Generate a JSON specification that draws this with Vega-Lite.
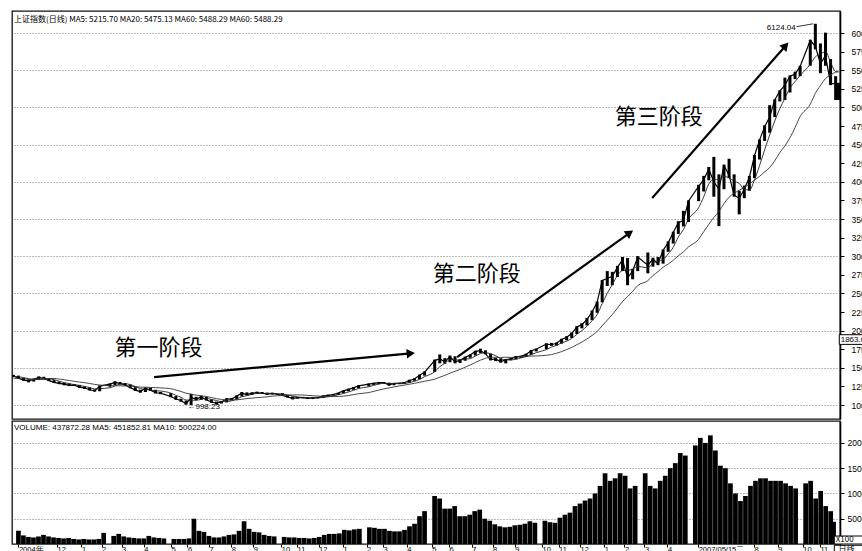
{
  "$schema": "https://vega.github.io/schema/vega-lite/v6.json",
  "background": "white",
  "padding": {"left": 10, "top": 10, "right": 0, "bottom": 0},
  "spacing": 0,
  "config": {
    "view": {"stroke": "#111", "strokeWidth": 1.3},
    "axis": {"labelFont": "Liberation Sans", "labelFontSize": 8, "labelColor": "black", "tickColor": "black", "domainColor": "black", "labelOverlap": false},
    "axisX": {"labelOverlap": false},
    "axisY": {"labelOverlap": false}
  },
  "datasets": {
    "k": [
      {"d":"2004-10-08","c":1390,"h":1405,"l":1375,"m20":1385,"m60":1360,"v":2600},
      {"d":"2004-10-15","c":1360,"h":1395,"l":1350,"m20":1380,"m60":1356,"v":1700},
      {"d":"2004-10-22","c":1335,"h":1365,"l":1325,"m20":1369,"m60":1351,"v":1400},
      {"d":"2004-10-29","c":1325,"h":1345,"l":1305,"m20":1353,"m60":1348,"v":1300},
      {"d":"2004-11-05","c":1345,"h":1355,"l":1315,"m20":1341,"m60":1348,"v":1500},
      {"d":"2004-11-12","c":1370,"h":1385,"l":1340,"m20":1344,"m60":1350,"v":1800},
      {"d":"2004-11-19","c":1355,"h":1380,"l":1345,"m20":1349,"m60":1352,"v":1500},
      {"d":"2004-11-26","c":1330,"h":1360,"l":1320,"m20":1350,"m60":1355,"v":1300},
      {"d":"2004-12-03","c":1305,"h":1335,"l":1295,"m20":1340,"m60":1357,"v":1200},
      {"d":"2004-12-10","c":1290,"h":1315,"l":1280,"m20":1320,"m60":1349,"v":1100},
      {"d":"2004-12-17","c":1280,"h":1300,"l":1265,"m20":1301,"m60":1340,"v":1200},
      {"d":"2004-12-24","c":1265,"h":1290,"l":1255,"m20":1285,"m60":1329,"v":1000},
      {"d":"2004-12-31","c":1266,"h":1280,"l":1255,"m20":1275,"m60":1319,"v":900},
      {"d":"2005-01-07","c":1240,"h":1270,"l":1230,"m20":1263,"m60":1309,"v":1000},
      {"d":"2005-01-14","c":1230,"h":1250,"l":1215,"m20":1250,"m60":1300,"v":900},
      {"d":"2005-01-21","c":1205,"h":1235,"l":1195,"m20":1235,"m60":1290,"v":900},
      {"d":"2005-01-28","c":1190,"h":1210,"l":1180,"m20":1216,"m60":1277,"v":1000},
      {"d":"2005-02-04","c":1255,"h":1265,"l":1185,"m20":1220,"m60":1268,"v":2200},
      {"d":"2005-02-18","c":1280,"h":1290,"l":1245,"m20":1232,"m60":1261,"v":1600},
      {"d":"2005-02-25","c":1305,"h":1320,"l":1270,"m20":1257,"m60":1259,"v":2000},
      {"d":"2005-03-04","c":1290,"h":1310,"l":1275,"m20":1282,"m60":1258,"v":1500},
      {"d":"2005-03-11","c":1270,"h":1295,"l":1260,"m20":1286,"m60":1256,"v":1300},
      {"d":"2005-03-18","c":1235,"h":1275,"l":1225,"m20":1275,"m60":1253,"v":1200},
      {"d":"2005-03-25","c":1200,"h":1240,"l":1190,"m20":1249,"m60":1247,"v":1100},
      {"d":"2005-04-01","c":1180,"h":1205,"l":1165,"m20":1221,"m60":1240,"v":1100},
      {"d":"2005-04-08","c":1225,"h":1235,"l":1175,"m20":1210,"m60":1239,"v":1600},
      {"d":"2005-04-15","c":1200,"h":1230,"l":1190,"m20":1201,"m60":1236,"v":1300},
      {"d":"2005-04-22","c":1165,"h":1205,"l":1155,"m20":1192,"m60":1233,"v":1200},
      {"d":"2005-04-29","c":1160,"h":1175,"l":1145,"m20":1187,"m60":1230,"v":1100},
      {"d":"2005-05-13","c":1115,"h":1160,"l":1105,"m20":1160,"m60":1219,"v":1000},
      {"d":"2005-05-20","c":1080,"h":1120,"l":1070,"m20":1130,"m60":1202,"v":1000},
      {"d":"2005-05-27","c":1060,"h":1085,"l":1045,"m20":1104,"m60":1182,"v":1000},
      {"d":"2005-06-03","c":1015,"h":1060,"l":1005,"m20":1067,"m60":1159,"v":1100},
      {"d":"2005-06-10","c":1100,"h":1150,"l":998,"m20":1064,"m60":1145,"v":5000},
      {"d":"2005-06-17","c":1080,"h":1110,"l":1065,"m20":1064,"m60":1132,"v":2600},
      {"d":"2005-06-24","c":1110,"h":1125,"l":1070,"m20":1076,"m60":1124,"v":2400},
      {"d":"2005-07-01","c":1070,"h":1110,"l":1060,"m20":1090,"m60":1115,"v":1600},
      {"d":"2005-07-08","c":1040,"h":1075,"l":1030,"m20":1075,"m60":1100,"v":1300},
      {"d":"2005-07-15","c":1025,"h":1045,"l":1005,"m20":1061,"m60":1085,"v":1300},
      {"d":"2005-07-22","c":1040,"h":1055,"l":1020,"m20":1044,"m60":1075,"v":1500},
      {"d":"2005-07-29","c":1083,"h":1090,"l":1035,"m20":1047,"m60":1068,"v":1800},
      {"d":"2005-08-05","c":1080,"h":1095,"l":1065,"m20":1057,"m60":1065,"v":1900},
      {"d":"2005-08-12","c":1120,"h":1130,"l":1075,"m20":1081,"m60":1069,"v":2600},
      {"d":"2005-08-19","c":1160,"h":1175,"l":1115,"m20":1111,"m60":1077,"v":4500},
      {"d":"2005-08-26","c":1140,"h":1170,"l":1130,"m20":1125,"m60":1087,"v":3000},
      {"d":"2005-09-02","c":1160,"h":1170,"l":1135,"m20":1145,"m60":1092,"v":2400},
      {"d":"2005-09-09","c":1165,"h":1180,"l":1150,"m20":1156,"m60":1099,"v":2300},
      {"d":"2005-09-16","c":1160,"h":1175,"l":1150,"m20":1156,"m60":1104,"v":1800},
      {"d":"2005-09-23","c":1145,"h":1165,"l":1135,"m20":1158,"m60":1110,"v":1600},
      {"d":"2005-09-30","c":1155,"h":1165,"l":1140,"m20":1156,"m60":1119,"v":1500},
      {"d":"2005-10-14","c":1130,"h":1160,"l":1125,"m20":1148,"m60":1128,"v":1400},
      {"d":"2005-10-21","c":1110,"h":1135,"l":1100,"m20":1135,"m60":1134,"v":1300},
      {"d":"2005-10-28","c":1090,"h":1115,"l":1075,"m20":1121,"m60":1135,"v":1300},
      {"d":"2005-11-04","c":1100,"h":1110,"l":1085,"m20":1108,"m60":1136,"v":1200},
      {"d":"2005-11-11","c":1100,"h":1110,"l":1090,"m20":1100,"m60":1135,"v":1200},
      {"d":"2005-11-18","c":1090,"h":1105,"l":1080,"m20":1095,"m60":1129,"v":1100},
      {"d":"2005-11-25","c":1095,"h":1105,"l":1080,"m20":1096,"m60":1125,"v":1200},
      {"d":"2005-12-02","c":1100,"h":1110,"l":1090,"m20":1096,"m60":1120,"v":1400},
      {"d":"2005-12-09","c":1120,"h":1130,"l":1095,"m20":1101,"m60":1116,"v":1800},
      {"d":"2005-12-16","c":1130,"h":1140,"l":1115,"m20":1111,"m60":1114,"v":2000},
      {"d":"2005-12-23","c":1140,"h":1150,"l":1125,"m20":1122,"m60":1113,"v":2000},
      {"d":"2005-12-30","c":1161,"h":1165,"l":1135,"m20":1138,"m60":1114,"v":2100},
      {"d":"2006-01-06","c":1190,"h":1195,"l":1160,"m20":1155,"m60":1119,"v":2800},
      {"d":"2006-01-13","c":1210,"h":1220,"l":1185,"m20":1175,"m60":1127,"v":2700},
      {"d":"2006-01-20","c":1230,"h":1240,"l":1205,"m20":1198,"m60":1139,"v":2900},
      {"d":"2006-01-27","c":1258,"h":1265,"l":1225,"m20":1222,"m60":1152,"v":3000},
      {"d":"2006-02-10","c":1280,"h":1290,"l":1250,"m20":1245,"m60":1167,"v":3300},
      {"d":"2006-02-17","c":1290,"h":1300,"l":1270,"m20":1265,"m60":1184,"v":3200},
      {"d":"2006-02-24","c":1300,"h":1310,"l":1280,"m20":1282,"m60":1201,"v":3000},
      {"d":"2006-03-03","c":1300,"h":1310,"l":1285,"m20":1293,"m60":1217,"v":3000},
      {"d":"2006-03-10","c":1270,"h":1300,"l":1260,"m20":1290,"m60":1230,"v":2600},
      {"d":"2006-03-17","c":1290,"h":1295,"l":1265,"m20":1290,"m60":1243,"v":2500},
      {"d":"2006-03-24","c":1290,"h":1300,"l":1280,"m20":1288,"m60":1256,"v":2500},
      {"d":"2006-03-31","c":1300,"h":1305,"l":1285,"m20":1288,"m60":1267,"v":2800},
      {"d":"2006-04-07","c":1330,"h":1340,"l":1300,"m20":1303,"m60":1279,"v":3500},
      {"d":"2006-04-14","c":1350,"h":1360,"l":1325,"m20":1318,"m60":1291,"v":4000},
      {"d":"2006-04-21","c":1400,"h":1410,"l":1345,"m20":1345,"m60":1305,"v":5500},
      {"d":"2006-04-28","c":1440,"h":1450,"l":1395,"m20":1380,"m60":1320,"v":6500},
      {"d":"2006-05-12","c":1600,"h":1610,"l":1445,"m20":1448,"m60":1347,"v":9500},
      {"d":"2006-05-19","c":1620,"h":1680,"l":1560,"m20":1515,"m60":1374,"v":9000},
      {"d":"2006-05-26","c":1580,"h":1630,"l":1555,"m20":1560,"m60":1398,"v":7000},
      {"d":"2006-06-02","c":1650,"h":1665,"l":1575,"m20":1613,"m60":1427,"v":7000},
      {"d":"2006-06-09","c":1580,"h":1655,"l":1560,"m20":1608,"m60":1453,"v":7500},
      {"d":"2006-06-16","c":1600,"h":1615,"l":1565,"m20":1603,"m60":1478,"v":5500},
      {"d":"2006-06-23","c":1640,"h":1650,"l":1595,"m20":1618,"m60":1508,"v":5500},
      {"d":"2006-06-30","c":1672,"h":1680,"l":1635,"m20":1623,"m60":1539,"v":5800},
      {"d":"2006-07-07","c":1720,"h":1730,"l":1665,"m20":1658,"m60":1571,"v":6500},
      {"d":"2006-07-14","c":1730,"h":1757,"l":1700,"m20":1691,"m60":1603,"v":6800},
      {"d":"2006-07-21","c":1690,"h":1735,"l":1680,"m20":1703,"m60":1627,"v":5000},
      {"d":"2006-07-28","c":1610,"h":1690,"l":1600,"m20":1688,"m60":1641,"v":4600},
      {"d":"2006-08-04","c":1620,"h":1635,"l":1590,"m20":1663,"m60":1643,"v":3900},
      {"d":"2006-08-11","c":1580,"h":1625,"l":1570,"m20":1625,"m60":1639,"v":3500},
      {"d":"2006-08-18","c":1610,"h":1615,"l":1560,"m20":1605,"m60":1642,"v":3300},
      {"d":"2006-08-25","c":1620,"h":1630,"l":1600,"m20":1608,"m60":1639,"v":3400},
      {"d":"2006-09-01","c":1650,"h":1660,"l":1615,"m20":1615,"m60":1645,"v":3700},
      {"d":"2006-09-08","c":1650,"h":1665,"l":1635,"m20":1633,"m60":1649,"v":3800},
      {"d":"2006-09-15","c":1680,"h":1690,"l":1645,"m20":1650,"m60":1653,"v":4000},
      {"d":"2006-09-22","c":1730,"h":1740,"l":1675,"m20":1678,"m60":1658,"v":4500},
      {"d":"2006-09-29","c":1750,"h":1760,"l":1720,"m20":1703,"m60":1660,"v":4200},
      {"d":"2006-10-13","c":1820,"h":1830,"l":1750,"m20":1745,"m60":1668,"v":4600},
      {"d":"2006-10-20","c":1810,"h":1835,"l":1795,"m20":1778,"m60":1678,"v":4300},
      {"d":"2006-10-27","c":1830,"h":1840,"l":1800,"m20":1803,"m60":1696,"v":4200},
      {"d":"2006-11-03","c":1880,"h":1890,"l":1825,"m20":1835,"m60":1718,"v":5200},
      {"d":"2006-11-10","c":1910,"h":1925,"l":1870,"m20":1858,"m60":1745,"v":5800},
      {"d":"2006-11-17","c":1960,"h":1975,"l":1900,"m20":1895,"m60":1774,"v":6200},
      {"d":"2006-11-24","c":2050,"h":2060,"l":1955,"m20":1950,"m60":1810,"v":7500},
      {"d":"2006-12-01","c":2080,"h":2100,"l":2030,"m20":2000,"m60":1846,"v":8000},
      {"d":"2006-12-08","c":2150,"h":2170,"l":2070,"m20":2060,"m60":1888,"v":8600},
      {"d":"2006-12-15","c":2250,"h":2270,"l":2140,"m20":2133,"m60":1935,"v":9000},
      {"d":"2006-12-22","c":2380,"h":2390,"l":2240,"m20":2215,"m60":1989,"v":10000},
      {"d":"2006-12-29","c":2675,"h":2680,"l":2380,"m20":2364,"m60":2066,"v":11500},
      {"d":"2007-01-05","c":2700,"h":2800,"l":2600,"m20":2501,"m60":2140,"v":14000},
      {"d":"2007-01-12","c":2730,"h":2790,"l":2610,"m20":2621,"m60":2216,"v":12500},
      {"d":"2007-01-19","c":2850,"h":2870,"l":2720,"m20":2739,"m60":2301,"v":13000},
      {"d":"2007-01-26","c":2950,"h":2990,"l":2800,"m20":2808,"m60":2390,"v":14000},
      {"d":"2007-02-02","c":2710,"h":2975,"l":2610,"m20":2810,"m60":2457,"v":13500},
      {"d":"2007-02-09","c":2800,"h":2830,"l":2690,"m20":2828,"m60":2527,"v":11000},
      {"d":"2007-02-16","c":2990,"h":3000,"l":2800,"m20":2863,"m60":2605,"v":11500},
      {"d":"2007-03-02","c":2880,"h":3050,"l":2770,"m20":2845,"m60":2672,"v":14000},
      {"d":"2007-03-09","c":2960,"h":2980,"l":2860,"m20":2908,"m60":2740,"v":11500},
      {"d":"2007-03-16","c":2900,"h":2990,"l":2880,"m20":2933,"m60":2794,"v":11000},
      {"d":"2007-03-23","c":3080,"h":3090,"l":2900,"m20":2955,"m60":2852,"v":12500},
      {"d":"2007-03-30","c":3180,"h":3200,"l":3060,"m20":3030,"m60":2894,"v":13500},
      {"d":"2007-04-06","c":3320,"h":3330,"l":3170,"m20":3120,"m60":2946,"v":15000},
      {"d":"2007-04-13","c":3450,"h":3470,"l":3300,"m20":3258,"m60":3006,"v":16000},
      {"d":"2007-04-20","c":3480,"h":3610,"l":3400,"m20":3358,"m60":3058,"v":18000},
      {"d":"2007-04-27","c":3740,"h":3750,"l":3460,"m20":3498,"m60":3124,"v":17500},
      {"d":"2007-05-11","c":3940,"h":3960,"l":3740,"m20":3653,"m60":3227,"v":19500},
      {"d":"2007-05-18","c":4030,"h":4080,"l":3870,"m20":3798,"m60":3329,"v":21000},
      {"d":"2007-05-25","c":4170,"h":4200,"l":4020,"m20":3970,"m60":3428,"v":20000},
      {"d":"2007-06-01","c":4000,"h":4335,"l":3800,"m20":4035,"m60":3521,"v":21500},
      {"d":"2007-06-08","c":3900,"h":4100,"l":3404,"m20":4025,"m60":3599,"v":18500},
      {"d":"2007-06-15","c":4220,"h":4230,"l":3900,"m20":4073,"m60":3709,"v":15500},
      {"d":"2007-06-22","c":4090,"h":4310,"l":4050,"m20":4053,"m60":3793,"v":15000},
      {"d":"2007-06-29","c":3820,"h":4100,"l":3800,"m20":4008,"m60":3847,"v":12000},
      {"d":"2007-07-06","c":3780,"h":3880,"l":3563,"m20":3978,"m60":3885,"v":10000},
      {"d":"2007-07-13","c":3900,"h":3950,"l":3780,"m20":3898,"m60":3923,"v":8500},
      {"d":"2007-07-20","c":4060,"h":4080,"l":3880,"m20":3890,"m60":3971,"v":9500},
      {"d":"2007-07-27","c":4350,"h":4360,"l":4050,"m20":4023,"m60":4022,"v":11500},
      {"d":"2007-08-03","c":4560,"h":4570,"l":4300,"m20":4218,"m60":4073,"v":12500},
      {"d":"2007-08-10","c":4740,"h":4760,"l":4550,"m20":4428,"m60":4133,"v":13000},
      {"d":"2007-08-17","c":4870,"h":5030,"l":4660,"m20":4630,"m60":4191,"v":13000},
      {"d":"2007-08-24","c":5100,"h":5110,"l":4870,"m20":4818,"m60":4283,"v":12500},
      {"d":"2007-08-31","c":5220,"h":5230,"l":5080,"m20":4983,"m60":4393,"v":12500},
      {"d":"2007-09-07","c":5300,"h":5400,"l":5100,"m20":5123,"m60":4483,"v":12500},
      {"d":"2007-09-14","c":5420,"h":5430,"l":5200,"m20":5260,"m60":4593,"v":12000},
      {"d":"2007-09-21","c":5450,"h":5480,"l":5380,"m20":5348,"m60":4729,"v":11500},
      {"d":"2007-09-28","c":5550,"h":5560,"l":5420,"m20":5430,"m60":4877,"v":11000},
      {"d":"2007-10-12","c":5900,"h":5910,"l":5560,"m20":5580,"m60":5043,"v":12000},
      {"d":"2007-10-19","c":5820,"h":6124,"l":5780,"m20":5680,"m60":5190,"v":12500},
      {"d":"2007-10-26","c":5590,"h":5860,"l":5460,"m20":5715,"m60":5293,"v":9000},
      {"d":"2007-11-02","c":5695,"h":6005,"l":5560,"m20":5751,"m60":5388,"v":10500},
      {"d":"2007-11-09","c":5320,"h":5650,"l":5300,"m20":5606,"m60":5436,"v":7500},
      {"d":"2007-11-16","c":5320,"h":5420,"l":5100,"m20":5481,"m60":5474,"v":6500},
      {"d":"2007-11-20","c":5220,"h":5330,"l":5100,"m20":5475,"m60":5488,"v":4400}
    ],
    "arrows": [
      {"n":1,"d1":"2005-04-20","p1":1376,"d2":"2006-04-09","p2":1694},
      {"n":2,"d1":"2006-06-12","p1":1645,"d2":"2007-02-05","p2":3315},
      {"n":3,"d1":"2007-03-08","p1":3782,"d2":"2007-09-08","p2":5830}
    ]
  },
  "vconcat": [
    {
      "width": 828,
      "height": 408,
      "title": {"text": "上证指数(日线) MA5: 5215.70 MA20: 5475.13 MA60: 5488.29 MA60: 5488.29", "anchor": "start", "frame": "group", "offset": -13, "fontSize": 8, "font": "Noto Sans CJK SC", "fontWeight": "normal", "color": "black", "dx": 2},
      "layer": [
        {
          "data": {"name": "k"},
          "mark": {"type": "rule", "color": "black", "strokeWidth": 3},
          "encoding": {
            "x": {"field": "d", "type": "temporal", "scale": {"type": "utc", "domain": [{"year":2004,"month":10,"date":6,"utc":true}, {"year":2007,"month":11,"date":22,"utc":true}]}, "axis": null},
            "y": {"field": "l", "type": "quantitative", "title": null, "scale": {"domain": [812, 6296], "nice": false, "zero": false},
              "axis": {"orient": "right", "values": [1000,1250,1500,1750,2000,2250,2500,2750,3000,3250,3500,3750,4000,4250,4500,4750,5000,5250,5500,5750,6000], "format": "d", "tickSize": 4, "labelPadding": 7, "labelFontSize": 8.5, "domainWidth": 1.6, "grid": true, "gridDash": [1, 2], "gridColor": "#777", "gridOpacity": {"condition": {"test": "datum.value % 500 === 0", "value": 1}, "value": 0}, "labelOverlap": false}},
            "y2": {"field": "h"}
          }
        },
        {
          "data": {"name": "k"},
          "mark": {"type": "line", "color": "black", "strokeWidth": 1.2},
          "encoding": {"x": {"field": "d", "type": "temporal", "axis": null}, "y": {"field": "c", "type": "quantitative", "title": null,
            "axis": {"orient": "right", "values": [1000,1250,1500,1750,2000,2250,2500,2750,3000,3250,3500,3750,4000,4250,4500,4750,5000,5250,5500,5750,6000], "format": "d", "tickSize": 4, "labelPadding": 7, "labelFontSize": 8.5, "domainWidth": 1.6, "grid": true, "gridDash": [1, 2], "gridColor": "#777", "gridOpacity": {"condition": {"test": "datum.value % 500 === 0", "value": 1}, "value": 0}, "labelOverlap": false}}}
        },
        {
          "data": {"name": "k"},
          "mark": {"type": "line", "color": "#222", "strokeWidth": 0.9, "interpolate": "monotone"},
          "encoding": {"x": {"field": "d", "type": "temporal", "axis": null}, "y": {"field": "m20", "type": "quantitative", "title": null,
            "axis": {"orient": "right", "values": [1000,1250,1500,1750,2000,2250,2500,2750,3000,3250,3500,3750,4000,4250,4500,4750,5000,5250,5500,5750,6000], "format": "d", "tickSize": 4, "labelPadding": 7, "labelFontSize": 8.5, "domainWidth": 1.6, "grid": true, "gridDash": [1, 2], "gridColor": "#777", "gridOpacity": {"condition": {"test": "datum.value % 500 === 0", "value": 1}, "value": 0}, "labelOverlap": false}}}
        },
        {
          "data": {"name": "k"},
          "mark": {"type": "line", "color": "#333", "strokeWidth": 0.9, "interpolate": "monotone"},
          "encoding": {"x": {"field": "d", "type": "temporal", "axis": null}, "y": {"field": "m60", "type": "quantitative", "title": null,
            "axis": {"orient": "right", "values": [1000,1250,1500,1750,2000,2250,2500,2750,3000,3250,3500,3750,4000,4250,4500,4750,5000,5250,5500,5750,6000], "format": "d", "tickSize": 4, "labelPadding": 7, "labelFontSize": 8.5, "domainWidth": 1.6, "grid": true, "gridDash": [1, 2], "gridColor": "#777", "gridOpacity": {"condition": {"test": "datum.value % 500 === 0", "value": 1}, "value": 0}, "labelOverlap": false}}}
        },
        {
          "data": {"values": [{"ad":"2005-04-26","ap":1766,"at":"第一阶段"}]},
          "mark": {"type": "text", "font": "Noto Sans CJK SC", "fontSize": 22, "color": "black", "align": "center", "baseline": "middle"},
          "encoding": {"x": {"field": "ad", "type": "temporal", "axis": null}, "y": {"field": "ap", "type": "quantitative", "title": null,
            "axis": {"orient": "right", "values": [1000,1250,1500,1750,2000,2250,2500,2750,3000,3250,3500,3750,4000,4250,4500,4750,5000,5250,5500,5750,6000], "format": "d", "tickSize": 4, "labelPadding": 7, "labelFontSize": 8.5, "domainWidth": 1.6, "grid": true, "gridDash": [1, 2], "gridColor": "#777", "gridOpacity": {"condition": {"test": "datum.value % 500 === 0", "value": 1}, "value": 0}, "labelOverlap": false}}, "text": {"field": "at"}}
        },
        {
          "data": {"values": [{"sd":"2006-07-09","sp":2761,"st":"第二阶段"},{"sd":"2007-03-17","sp":4871,"st":"第三阶段"}]},
          "mark": {"type": "text", "font": "Noto Sans CJK SC", "fontSize": 22, "color": "black", "align": "center", "baseline": "middle"},
          "encoding": {"x": {"field": "sd", "type": "temporal", "axis": null}, "y": {"field": "sp", "type": "quantitative", "title": null,
            "axis": {"orient": "right", "values": [1000,1250,1500,1750,2000,2250,2500,2750,3000,3250,3500,3750,4000,4250,4500,4750,5000,5250,5500,5750,6000], "format": "d", "tickSize": 4, "labelPadding": 7, "labelFontSize": 8.5, "domainWidth": 1.6, "grid": true, "gridDash": [1, 2], "gridColor": "#777", "gridOpacity": {"condition": {"test": "datum.value % 500 === 0", "value": 1}, "value": 0}, "labelOverlap": false}}, "text": {"field": "st"}}
        },
        {
          "data": {"name": "arrows"},
          "mark": {"type": "rule", "color": "black", "strokeWidth": 2.2},
          "encoding": {"x": {"field": "d1", "type": "temporal", "axis": null}, "y": {"field": "p1", "type": "quantitative", "title": null,
            "axis": {"orient": "right", "values": [1000,1250,1500,1750,2000,2250,2500,2750,3000,3250,3500,3750,4000,4250,4500,4750,5000,5250,5500,5750,6000], "format": "d", "tickSize": 4, "labelPadding": 7, "labelFontSize": 8.5, "domainWidth": 1.6, "grid": true, "gridDash": [1, 2], "gridColor": "#777", "gridOpacity": {"condition": {"test": "datum.value % 500 === 0", "value": 1}, "value": 0}, "labelOverlap": false}}, "x2": {"field": "d2"}, "y2": {"field": "p2"}}
        },
        {
          "data": {"name": "arrows"},
          "transform": [{"filter": "datum.n == 1"}],
          "mark": {"type": "point", "shape": "triangle-right", "filled": true, "color": "black", "opacity": 1, "size": 90, "angle": -5},
          "encoding": {"x": {"field": "d2", "type": "temporal", "axis": null}, "y": {"field": "p2", "type": "quantitative", "title": null,
            "axis": {"orient": "right", "values": [1000,1250,1500,1750,2000,2250,2500,2750,3000,3250,3500,3750,4000,4250,4500,4750,5000,5250,5500,5750,6000], "format": "d", "tickSize": 4, "labelPadding": 7, "labelFontSize": 8.5, "domainWidth": 1.6, "grid": true, "gridDash": [1, 2], "gridColor": "#777", "gridOpacity": {"condition": {"test": "datum.value % 500 === 0", "value": 1}, "value": 0}, "labelOverlap": false}}}
        },
        {
          "data": {"name": "arrows"},
          "transform": [{"filter": "datum.n == 2"}],
          "mark": {"type": "point", "shape": "triangle-right", "filled": true, "color": "black", "opacity": 1, "size": 90, "angle": -35},
          "encoding": {"x": {"field": "d2", "type": "temporal", "axis": null}, "y": {"field": "p2", "type": "quantitative", "title": null,
            "axis": {"orient": "right", "values": [1000,1250,1500,1750,2000,2250,2500,2750,3000,3250,3500,3750,4000,4250,4500,4750,5000,5250,5500,5750,6000], "format": "d", "tickSize": 4, "labelPadding": 7, "labelFontSize": 8.5, "domainWidth": 1.6, "grid": true, "gridDash": [1, 2], "gridColor": "#777", "gridOpacity": {"condition": {"test": "datum.value % 500 === 0", "value": 1}, "value": 0}, "labelOverlap": false}}}
        },
        {
          "data": {"name": "arrows"},
          "transform": [{"filter": "datum.n == 3"}],
          "mark": {"type": "point", "shape": "triangle-right", "filled": true, "color": "black", "opacity": 1, "size": 90, "angle": -48},
          "encoding": {"x": {"field": "d2", "type": "temporal", "axis": null}, "y": {"field": "p2", "type": "quantitative", "title": null,
            "axis": {"orient": "right", "values": [1000,1250,1500,1750,2000,2250,2500,2750,3000,3250,3500,3750,4000,4250,4500,4750,5000,5250,5500,5750,6000], "format": "d", "tickSize": 4, "labelPadding": 7, "labelFontSize": 8.5, "domainWidth": 1.6, "grid": true, "gridDash": [1, 2], "gridColor": "#777", "gridOpacity": {"condition": {"test": "datum.value % 500 === 0", "value": 1}, "value": 0}, "labelOverlap": false}}}
        },
        {
          "data": {"values": [{"d1": "2007-09-23", "p1": 6085, "d2": "2007-10-16", "p2": 6124}]},
          "mark": {"type": "rule", "color": "black", "strokeWidth": 0.8},
          "encoding": {"x": {"field": "d1", "type": "temporal", "axis": null}, "y": {"field": "p1", "type": "quantitative", "title": null,
            "axis": {"orient": "right", "values": [1000,1250,1500,1750,2000,2250,2500,2750,3000,3250,3500,3750,4000,4250,4500,4750,5000,5250,5500,5750,6000], "format": "d", "tickSize": 4, "labelPadding": 7, "labelFontSize": 8.5, "domainWidth": 1.6, "grid": true, "gridDash": [1, 2], "gridColor": "#777", "gridOpacity": {"condition": {"test": "datum.value % 500 === 0", "value": 1}, "value": 0}, "labelOverlap": false}}, "x2": {"field": "d2"}, "y2": {"field": "p2"}}
        },
        {
          "data": {"values": [{"d1": "2007-11-21", "p1": 1815, "d2": "2008-01-10", "p2": 1945}]},
          "mark": {"type": "rect", "fill": "white", "stroke": "black", "strokeWidth": 1},
          "encoding": {"x": {"field": "d1", "type": "temporal", "axis": null}, "y": {"field": "p1", "type": "quantitative", "title": null,
            "axis": {"orient": "right", "values": [1000,1250,1500,1750,2000,2250,2500,2750,3000,3250,3500,3750,4000,4250,4500,4750,5000,5250,5500,5750,6000], "format": "d", "tickSize": 4, "labelPadding": 7, "labelFontSize": 8.5, "domainWidth": 1.6, "grid": true, "gridDash": [1, 2], "gridColor": "#777", "gridOpacity": {"condition": {"test": "datum.value % 500 === 0", "value": 1}, "value": 0}, "labelOverlap": false}}, "x2": {"field": "d2"}, "y2": {"field": "p2"}}
        },
        {
          "data": {"values": [{"nd": "2005-06-05", "np": 975, "nt": "←998.23"}, {"nd": "2007-11-23", "np": 1880, "nt": "1863.0"}]},
          "mark": {"type": "text", "font": "Liberation Sans", "fontSize": 8, "color": "black", "align": "left", "baseline": "middle"},
          "encoding": {"x": {"field": "nd", "type": "temporal", "axis": null}, "y": {"field": "np", "type": "quantitative", "title": null,
            "axis": {"orient": "right", "values": [1000,1250,1500,1750,2000,2250,2500,2750,3000,3250,3500,3750,4000,4250,4500,4750,5000,5250,5500,5750,6000], "format": "d", "tickSize": 4, "labelPadding": 7, "labelFontSize": 8.5, "domainWidth": 1.6, "grid": true, "gridDash": [1, 2], "gridColor": "#777", "gridOpacity": {"condition": {"test": "datum.value % 500 === 0", "value": 1}, "value": 0}, "labelOverlap": false}}, "text": {"field": "nt"}}
        },
        {
          "data": {"values": [{"rd": "2007-09-22", "rp": 6067, "rt": "6124.04"}]},
          "mark": {"type": "text", "font": "Liberation Sans", "fontSize": 8, "color": "black", "align": "right", "baseline": "middle"},
          "encoding": {"x": {"field": "rd", "type": "temporal", "axis": null}, "y": {"field": "rp", "type": "quantitative", "title": null,
            "axis": {"orient": "right", "values": [1000,1250,1500,1750,2000,2250,2500,2750,3000,3250,3500,3750,4000,4250,4500,4750,5000,5250,5500,5750,6000], "format": "d", "tickSize": 4, "labelPadding": 7, "labelFontSize": 8.5, "domainWidth": 1.6, "grid": true, "gridDash": [1, 2], "gridColor": "#777", "gridOpacity": {"condition": {"test": "datum.value % 500 === 0", "value": 1}, "value": 0}, "labelOverlap": false}}, "text": {"field": "rt"}}
        }
      ]
    },
    {
      "width": 828,
      "height": 123,
      "title": {"text": "VOLUME: 437872.28 MA5: 451852.81 MA10: 500224.00", "anchor": "start", "frame": "group", "offset": -11, "fontSize": 8, "font": "Liberation Sans", "fontWeight": "normal", "color": "black", "dx": 2},
      "layer": [
        {
          "data": {"name": "k"},
          "mark": {"type": "bar", "color": "black", "size": 4.7},
          "encoding": {
            "x": {"field": "d", "type": "temporal", "scale": {"type": "utc", "domain": [{"year":2004,"month":10,"date":6,"utc":true}, {"year":2007,"month":11,"date":22,"utc":true}]},
              "axis": {"orient": "bottom", "title": null, "grid": false, "domain": false, "tickSize": 3, "labelAlign": "left", "labelBaseline": "middle", "labelPadding": 2, "labelFontSize": 7.5, "labelOverlap": false, "labelFlush": false,
                "values": [{"year":2004,"month":10,"date":8,"utc":true},{"year":2004,"month":12,"date":1,"utc":true},{"year":2005,"month":1,"date":4,"utc":true},{"year":2005,"month":2,"date":1,"utc":true},{"year":2005,"month":3,"date":1,"utc":true},{"year":2005,"month":4,"date":1,"utc":true},{"year":2005,"month":5,"date":9,"utc":true},{"year":2005,"month":6,"date":1,"utc":true},{"year":2005,"month":7,"date":1,"utc":true},{"year":2005,"month":8,"date":1,"utc":true},{"year":2005,"month":9,"date":1,"utc":true},{"year":2005,"month":10,"date":10,"utc":true},{"year":2005,"month":11,"date":1,"utc":true},{"year":2005,"month":12,"date":1,"utc":true},{"year":2006,"month":1,"date":4,"utc":true},{"year":2006,"month":2,"date":6,"utc":true},{"year":2006,"month":3,"date":1,"utc":true},{"year":2006,"month":4,"date":3,"utc":true},{"year":2006,"month":5,"date":8,"utc":true},{"year":2006,"month":6,"date":1,"utc":true},{"year":2006,"month":7,"date":3,"utc":true},{"year":2006,"month":8,"date":1,"utc":true},{"year":2006,"month":9,"date":1,"utc":true},{"year":2006,"month":10,"date":9,"utc":true},{"year":2006,"month":11,"date":1,"utc":true},{"year":2006,"month":12,"date":1,"utc":true},{"year":2007,"month":1,"date":4,"utc":true},{"year":2007,"month":2,"date":1,"utc":true},{"year":2007,"month":3,"date":1,"utc":true},{"year":2007,"month":4,"date":2,"utc":true},{"year":2007,"month":5,"date":15,"utc":true},{"year":2007,"month":8,"date":1,"utc":true},{"year":2007,"month":9,"date":3,"utc":true},{"year":2007,"month":10,"date":8,"utc":true},{"year":2007,"month":11,"date":1,"utc":true}],
                "labelExpr": "utcyear(datum.value) == 2004 && utcmonth(datum.value) == 9 ? '2004年' : (utcyear(datum.value) == 2007 && utcmonth(datum.value) == 4 ? '2007/05/15二' : '' + (utcmonth(datum.value) + 1))"}},
            "y": {"field": "v", "type": "quantitative", "title": null, "scale": {"domain": [0, 24340], "nice": false},
              "axis": {"orient": "right", "values": [5000, 10000, 15000, 20000], "format": "d", "tickSize": 4, "labelPadding": 3, "labelFontSize": 8.5, "domainWidth": 1.6, "grid": true, "gridDash": [1, 2], "gridColor": "#777", "labelOverlap": false}}
          }
        },
        {
          "data": {"values": [{"d1": "2007-11-21", "p1": 0, "d2": "2008-01-10", "p2": 1580}, {"d1": "2007-11-21", "p1": -2200, "d2": "2008-01-10", "p2": -250}]},
          "mark": {"type": "rect", "fill": "white", "stroke": "black", "strokeWidth": 1},
          "encoding": {
            "x": {"field": "d1", "type": "temporal",
              "axis": {"orient": "bottom", "title": null, "grid": false, "domain": false, "tickSize": 3, "labelAlign": "left", "labelBaseline": "middle", "labelPadding": 2, "labelFontSize": 7.5, "labelOverlap": false, "labelFlush": false,
                "values": [{"year":2004,"month":10,"date":8,"utc":true},{"year":2004,"month":12,"date":1,"utc":true},{"year":2005,"month":1,"date":4,"utc":true},{"year":2005,"month":2,"date":1,"utc":true},{"year":2005,"month":3,"date":1,"utc":true},{"year":2005,"month":4,"date":1,"utc":true},{"year":2005,"month":5,"date":9,"utc":true},{"year":2005,"month":6,"date":1,"utc":true},{"year":2005,"month":7,"date":1,"utc":true},{"year":2005,"month":8,"date":1,"utc":true},{"year":2005,"month":9,"date":1,"utc":true},{"year":2005,"month":10,"date":10,"utc":true},{"year":2005,"month":11,"date":1,"utc":true},{"year":2005,"month":12,"date":1,"utc":true},{"year":2006,"month":1,"date":4,"utc":true},{"year":2006,"month":2,"date":6,"utc":true},{"year":2006,"month":3,"date":1,"utc":true},{"year":2006,"month":4,"date":3,"utc":true},{"year":2006,"month":5,"date":8,"utc":true},{"year":2006,"month":6,"date":1,"utc":true},{"year":2006,"month":7,"date":3,"utc":true},{"year":2006,"month":8,"date":1,"utc":true},{"year":2006,"month":9,"date":1,"utc":true},{"year":2006,"month":10,"date":9,"utc":true},{"year":2006,"month":11,"date":1,"utc":true},{"year":2006,"month":12,"date":1,"utc":true},{"year":2007,"month":1,"date":4,"utc":true},{"year":2007,"month":2,"date":1,"utc":true},{"year":2007,"month":3,"date":1,"utc":true},{"year":2007,"month":4,"date":2,"utc":true},{"year":2007,"month":5,"date":15,"utc":true},{"year":2007,"month":8,"date":1,"utc":true},{"year":2007,"month":9,"date":3,"utc":true},{"year":2007,"month":10,"date":8,"utc":true},{"year":2007,"month":11,"date":1,"utc":true}],
                "labelExpr": "utcyear(datum.value) == 2004 && utcmonth(datum.value) == 9 ? '2004年' : (utcyear(datum.value) == 2007 && utcmonth(datum.value) == 4 ? '2007/05/15二' : '' + (utcmonth(datum.value) + 1))"}},
            "y": {"field": "p1", "type": "quantitative", "title": null,
              "axis": {"orient": "right", "values": [5000, 10000, 15000, 20000], "format": "d", "tickSize": 4, "labelPadding": 3, "labelFontSize": 8.5, "domainWidth": 1.6, "grid": true, "gridDash": [1, 2], "gridColor": "#777", "labelOverlap": false}},
            "x2": {"field": "d2"}, "y2": {"field": "p2"}}
        },
        {
          "data": {"values": [{"d": "2007-11-23", "p": 780, "t": "X100"}, {"d": "2007-11-27", "p": -1200, "t": "日线"}]},
          "mark": {"type": "text", "font": "Noto Sans CJK SC", "fontSize": 8, "color": "black", "align": "left", "baseline": "middle"},
          "encoding": {
            "x": {"field": "d", "type": "temporal",
              "axis": {"orient": "bottom", "title": null, "grid": false, "domain": false, "tickSize": 3, "labelAlign": "left", "labelBaseline": "middle", "labelPadding": 2, "labelFontSize": 7.5, "labelOverlap": false, "labelFlush": false,
                "values": [{"year":2004,"month":10,"date":8,"utc":true},{"year":2004,"month":12,"date":1,"utc":true},{"year":2005,"month":1,"date":4,"utc":true},{"year":2005,"month":2,"date":1,"utc":true},{"year":2005,"month":3,"date":1,"utc":true},{"year":2005,"month":4,"date":1,"utc":true},{"year":2005,"month":5,"date":9,"utc":true},{"year":2005,"month":6,"date":1,"utc":true},{"year":2005,"month":7,"date":1,"utc":true},{"year":2005,"month":8,"date":1,"utc":true},{"year":2005,"month":9,"date":1,"utc":true},{"year":2005,"month":10,"date":10,"utc":true},{"year":2005,"month":11,"date":1,"utc":true},{"year":2005,"month":12,"date":1,"utc":true},{"year":2006,"month":1,"date":4,"utc":true},{"year":2006,"month":2,"date":6,"utc":true},{"year":2006,"month":3,"date":1,"utc":true},{"year":2006,"month":4,"date":3,"utc":true},{"year":2006,"month":5,"date":8,"utc":true},{"year":2006,"month":6,"date":1,"utc":true},{"year":2006,"month":7,"date":3,"utc":true},{"year":2006,"month":8,"date":1,"utc":true},{"year":2006,"month":9,"date":1,"utc":true},{"year":2006,"month":10,"date":9,"utc":true},{"year":2006,"month":11,"date":1,"utc":true},{"year":2006,"month":12,"date":1,"utc":true},{"year":2007,"month":1,"date":4,"utc":true},{"year":2007,"month":2,"date":1,"utc":true},{"year":2007,"month":3,"date":1,"utc":true},{"year":2007,"month":4,"date":2,"utc":true},{"year":2007,"month":5,"date":15,"utc":true},{"year":2007,"month":8,"date":1,"utc":true},{"year":2007,"month":9,"date":3,"utc":true},{"year":2007,"month":10,"date":8,"utc":true},{"year":2007,"month":11,"date":1,"utc":true}],
                "labelExpr": "utcyear(datum.value) == 2004 && utcmonth(datum.value) == 9 ? '2004年' : (utcyear(datum.value) == 2007 && utcmonth(datum.value) == 4 ? '2007/05/15二' : '' + (utcmonth(datum.value) + 1))"}},
            "y": {"field": "p", "type": "quantitative", "title": null,
              "axis": {"orient": "right", "values": [5000, 10000, 15000, 20000], "format": "d", "tickSize": 4, "labelPadding": 3, "labelFontSize": 8.5, "domainWidth": 1.6, "grid": true, "gridDash": [1, 2], "gridColor": "#777", "labelOverlap": false}},
            "text": {"field": "t"}}
        }
      ]
    }
  ]
}
